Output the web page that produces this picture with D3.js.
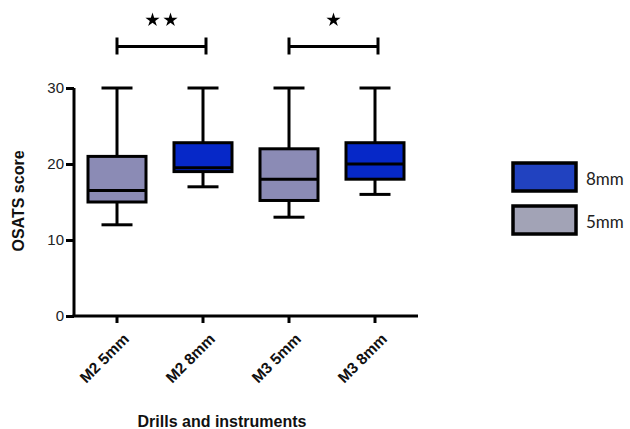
<!DOCTYPE html>
<html>
<head>
<meta charset="utf-8">
<script src="https://cdn.jsdelivr.net/npm/d3@7"></script>
<style>
  body { margin: 0; background: #fff; }
  svg { display: block; }
</style>
</head>
<body>
<script>
// values
var categories = ["M2 5mm", "M2 8mm", "M3 5mm", "M3 8mm"];
var groups     = ["5mm", "8mm", "5mm", "8mm"];
var mins    = [12, 17, 13, 16];
var q1s     = [15, 19, 15.2, 18];
var medians = [16.5, 19.5, 18, 20];
var q3s     = [21, 22.8, 22, 22.8];
var maxs    = [30, 30, 30, 30];
var yTicks  = [0, 10, 20, 30];

// significance brackets: [from, to, stars]
var sigFrom  = ["M2 5mm", "M3 5mm"];
var sigTo    = ["M2 8mm", "M3 8mm"];
var sigStars = [2, 1];

var legendKeys = ["8mm", "5mm"];

window.onload = drawChart();

function drawChart(){
    var width = 630,
        height = 429;

    var boxFill = {"5mm": "#8b8bb5", "8mm": "#0628c8"};
    var legendFill = {"5mm": "#a2a3b6", "8mm": "#2142c0"};

    var svg = d3.select("body")
        .append("svg")
        .attr("width", width)
        .attr("height", height);

    var x = d3.scaleBand()
        .domain(categories)
        .range([74, 418]);

    var y = d3.scaleLinear()
        .domain([0, 30])
        .range([316, 88]);

    //y axis
    var yAxis = svg.append("g")
        .attr("transform", "translate(74,0)")
        .call(d3.axisLeft(y).tickValues(yTicks).tickSize(8).tickPadding(2));
    yAxis.select(".domain").attr("stroke-width", 3).attr("d", "M0," + y(30) + "V" + y(0));
    yAxis.selectAll(".tick line").attr("stroke-width", 3);
    yAxis.selectAll(".tick text")
        .attr("font-family", "Liberation Sans, Arial, sans-serif")
        .attr("font-size", 15)
        .attr("fill", "#222");

    //x axis
    var xAxis = svg.append("g")
        .attr("transform", "translate(0," + y(0) + ")")
        .call(d3.axisBottom(x).tickSize(7).tickSizeOuter(0));
    xAxis.select(".domain").attr("stroke-width", 3).attr("d", "M72.5,0H418");
    xAxis.selectAll(".tick line").attr("stroke-width", 3);
    xAxis.selectAll(".tick text")
        .attr("font-family", "Liberation Sans, Arial, sans-serif")
        .attr("font-weight", "bold")
        .attr("font-size", 15.5)
        .attr("fill", "#111")
        .attr("text-anchor", "end")
        .attr("dy", null)
        .attr("transform", "translate(6,17) rotate(-45)");

    //boxes
    var half = 29, cap = 15.5;
    var data = categories.map(function(c, i){
        return {cat: c, grp: groups[i], min: mins[i], q1: q1s[i], med: medians[i], q3: q3s[i], max: maxs[i]};
    });

    var box = svg.selectAll(".box")
        .data(data)
        .enter()
        .append("g")
        .attr("class", "box")
        .attr("transform", function(d){ return "translate(" + (x(d.cat) + x.bandwidth() / 2) + ",0)"; })
        .attr("stroke", "#000")
        .attr("stroke-width", 3);

    box.append("line")
        .attr("x1", 0).attr("x2", 0)
        .attr("y1", function(d){ return y(d.max); })
        .attr("y2", function(d){ return y(d.q3); });
    box.append("line")
        .attr("x1", 0).attr("x2", 0)
        .attr("y1", function(d){ return y(d.q1); })
        .attr("y2", function(d){ return y(d.min); });
    box.append("line")
        .attr("x1", -cap).attr("x2", cap)
        .attr("y1", function(d){ return y(d.max); })
        .attr("y2", function(d){ return y(d.max); });
    box.append("line")
        .attr("x1", -cap).attr("x2", cap)
        .attr("y1", function(d){ return y(d.min); })
        .attr("y2", function(d){ return y(d.min); });
    box.append("rect")
        .attr("x", -half)
        .attr("width", half * 2)
        .attr("y", function(d){ return y(d.q3); })
        .attr("height", function(d){ return y(d.q1) - y(d.q3); })
        .attr("fill", function(d){ return boxFill[d.grp]; });
    box.append("line")
        .attr("x1", -half).attr("x2", half)
        .attr("y1", function(d){ return y(d.med); })
        .attr("y2", function(d){ return y(d.med); });

    //significance brackets
    var star = d3.symbol().type(d3.symbolStar).size(62);
    sigFrom.forEach(function(f, i){
        var x1 = x(f) + x.bandwidth() / 2,
            x2 = x(sigTo[i]) + x.bandwidth() / 2 + 3,
            by = 46.5;
        var g = svg.append("g").attr("stroke", "#000").attr("stroke-width", 3);
        g.append("line").attr("x1", x1).attr("x2", x2).attr("y1", by).attr("y2", by);
        g.append("line").attr("x1", x1).attr("x2", x1).attr("y1", by - 9).attr("y2", by + 8);
        g.append("line").attr("x1", x2).attr("x2", x2).attr("y1", by - 9).attr("y2", by + 8);
        var mid = (x1 + x2) / 2;
        d3.range(sigStars[i]).forEach(function(k){
            var sx = mid + (k - (sigStars[i] - 1) / 2) * 18;
            svg.append("path")
                .attr("d", star)
                .attr("transform", "translate(" + sx + ",20)")
                .attr("fill", "#000");
        });
    });

    //axis titles
    svg.append("text")
        .attr("transform", "translate(24,201) rotate(-90)")
        .attr("text-anchor", "middle")
        .attr("font-family", "Liberation Sans, Arial, sans-serif")
        .attr("font-weight", "bold")
        .attr("font-size", 16)
        .attr("fill", "#111")
        .text("OSATS score");

    svg.append("text")
        .attr("x", 222)
        .attr("y", 427)
        .attr("text-anchor", "middle")
        .attr("font-family", "Liberation Sans, Arial, sans-serif")
        .attr("font-weight", "bold")
        .attr("font-size", 16)
        .attr("fill", "#111")
        .text("Drills and instruments");

    //legend
    var legend = svg.selectAll(".legend")
        .data(legendKeys)
        .enter()
        .append("g")
        .attr("class", "legend")
        .attr("transform", function(d, i){ return "translate(513," + (163 + i * 43) + ")"; });
    legend.append("rect")
        .attr("width", 63)
        .attr("height", 28)
        .attr("fill", function(d){ return legendFill[d]; })
        .attr("stroke", "#000")
        .attr("stroke-width", 3.5);
    legend.append("text")
        .attr("x", 74 - 1)
        .attr("y", 22)
        .attr("font-family", "Lato, sans-serif")
        .attr("font-size", 17)
        .attr("fill", "#222")
        .text(function(d){ return d; });
}
</script>
</body>
</html>
